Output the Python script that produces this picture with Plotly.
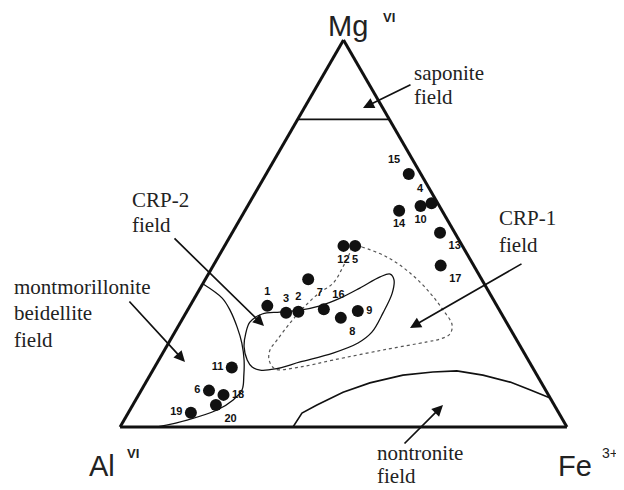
import plotly.graph_objects as go

W, H = 624, 490
OFF = 8  # the page body margin shifts the figure by 8 px; compensate

# ---------------- data (ternary fractions: Mg VI = a, Al VI = b, Fe3+ = c) ----------------
sample_ids = ["15", "4", "10", "14", "13", "17", "12", "5", "7", "1",
              "3", "2", "16", "8", "9", "11", "6", "18", "20", "19"]
sample_mg = [0.654, 0.578, 0.571, 0.559, 0.502, 0.417, 0.468, 0.468, 0.382, 0.313,
             0.295, 0.298, 0.304, 0.282, 0.300, 0.154, 0.094, 0.083, 0.057, 0.037]
sample_al = [0.027, 0.014, 0.042, 0.096, 0.033, 0.074, 0.266, 0.240, 0.388, 0.514,
             0.481, 0.452, 0.392, 0.365, 0.318, 0.673, 0.754, 0.727, 0.757, 0.823]
sample_fe = [0.319, 0.408, 0.387, 0.345, 0.465, 0.509, 0.266, 0.292, 0.230, 0.173,
             0.224, 0.250, 0.304, 0.353, 0.382, 0.173, 0.152, 0.190, 0.186, 0.140]
label_positions = ["top left", "top left", "bottom center", "bottom center", "bottom right",
                   "bottom right", "bottom center", "bottom center", "bottom right", "top center",
                   "top center", "top center", "top right", "bottom right", "middle right",
                   "middle left", "middle left", "middle right", "bottom right", "middle left"]

# saponite field boundary
sap_mg = [0.795, 0.795]
sap_al = [0.205, 0.0]
sap_fe = [0.0, 0.205]

# montmorillonite-beidellite field boundary
mont_mg = [0.370, 0.333, 0.302, 0.258, 0.217, 0.173, 0.134, 0.096, 0.070, 0.044, 0.018, 0.0]
mont_al = [0.630, 0.605, 0.603, 0.609, 0.619, 0.636, 0.656, 0.679, 0.712, 0.761, 0.841, 0.917]
mont_fe = [0.000, 0.062, 0.095, 0.133, 0.164, 0.191, 0.210, 0.225, 0.218, 0.195, 0.141, 0.083]

# CRP-2 field (solid closed curve)
crp2_mg = [0.302, 0.297, 0.292, 0.271, 0.243, 0.207, 0.173, 0.155, 0.147, 0.150, 0.168,
           0.191, 0.217, 0.245, 0.295, 0.346, 0.380, 0.395, 0.388, 0.359, 0.333, 0.313, 0.302]
crp2_al = [0.446, 0.494, 0.536, 0.574, 0.597, 0.619, 0.629, 0.627, 0.613, 0.578, 0.513,
           0.428, 0.359, 0.314, 0.264, 0.218, 0.197, 0.198, 0.224, 0.284, 0.341, 0.396, 0.446]
crp2_fe = [0.252, 0.209, 0.172, 0.155, 0.160, 0.174, 0.198, 0.218, 0.240, 0.272, 0.319,
           0.381, 0.424, 0.441, 0.441, 0.436, 0.423, 0.407, 0.388, 0.357, 0.326, 0.291, 0.252]

# CRP-1 field (dotted closed curve)
crp1_mg = [0.470, 0.465, 0.439, 0.398, 0.346, 0.302, 0.264, 0.240, 0.227, 0.220, 0.199, 0.173,
           0.155, 0.150, 0.173, 0.199, 0.225, 0.269, 0.307, 0.344, 0.372, 0.413, 0.452, 0.470]
crp1_al = [0.244, 0.226, 0.183, 0.152, 0.133, 0.126, 0.125, 0.142, 0.171, 0.203, 0.312, 0.437,
           0.520, 0.578, 0.580, 0.565, 0.536, 0.485, 0.437, 0.385, 0.337, 0.295, 0.259, 0.244]
crp1_fe = [0.286, 0.309, 0.378, 0.450, 0.521, 0.572, 0.611, 0.618, 0.602, 0.577, 0.489, 0.390,
           0.325, 0.272, 0.247, 0.236, 0.239, 0.246, 0.256, 0.271, 0.291, 0.292, 0.289, 0.286]

# nontronite field boundary
nont_mg = [0.0, 0.036, 0.057, 0.090, 0.114, 0.134, 0.142, 0.145, 0.134, 0.116, 0.096, 0.075]
nont_al = [0.613, 0.575, 0.531, 0.456, 0.384, 0.300, 0.229, 0.174, 0.121, 0.069, 0.035, 0.0]
nont_fe = [0.387, 0.389, 0.412, 0.454, 0.502, 0.566, 0.629, 0.681, 0.745, 0.815, 0.869, 0.925]

# ---------------- figure ----------------
fig = go.Figure()

def boundary(a, b, c, shape="spline", dash="solid", width=1.3, color="#111111"):
    fig.add_trace(go.Scatterternary(
        a=a, b=b, c=c, mode="lines",
        line=dict(color=color, width=width, dash=dash, shape=shape),
        hoverinfo="skip", showlegend=False))

boundary(sap_mg, sap_al, sap_fe, shape="linear", width=1.8)
boundary(mont_mg, mont_al, mont_fe, shape="spline", width=1.3)
boundary(crp2_mg, crp2_al, crp2_fe, shape="spline", width=1.3)
boundary(crp1_mg, crp1_al, crp1_fe, shape="spline", dash="dot", width=1.2, color="#555555")
boundary(nont_mg, nont_al, nont_fe, shape="linear", width=1.6)

fig.add_trace(go.Scatterternary(
    a=sample_mg, b=sample_al, c=sample_fe,
    mode="markers+text", text=["<b>%s</b>" % s for s in sample_ids],
    textposition=label_positions,
    textfont=dict(family="Arial", size=11, color="#111111"),
    marker=dict(size=12, color="#111111", line=dict(width=0)),
    hoverinfo="text", showlegend=False))

axis_style = dict(showgrid=False, showticklabels=False, ticks="", showline=True,
                  linecolor="#111111", linewidth=3, title=dict(text=""), min=0)

fig.update_layout(
    width=W, height=H,
    margin=dict(l=0, r=0, t=0, b=0),
    paper_bgcolor="white",
    showlegend=False,
    ternary=dict(
        sum=1,
        bgcolor="white",
        domain=dict(x=[(120 - OFF) / W, (567 - OFF) / W],
                    y=[1 - (427 - OFF) / H, 1 - (40 - OFF) / H]),
        aaxis=axis_style, baxis=axis_style, caxis=axis_style,
    ),
)

def P(x, y):
    return (x - OFF) / W, 1 - (y - OFF) / H

annotations = []

def text(x, y, s, size=21, family="Liberation Serif", anchor="left"):
    px_, py_ = P(x, y)
    annotations.append(dict(x=px_, y=py_, xref="paper", yref="paper", text=s,
                            showarrow=False, xanchor=anchor, yanchor="middle",
                            font=dict(family=family, size=size, color="#222222")))

def arrow(tail, head):
    hx, hy = P(*head)
    annotations.append(dict(x=hx, y=hy, xref="paper", yref="paper", text="",
                            showarrow=True, arrowhead=2, arrowsize=1.3, arrowwidth=1.7,
                            arrowcolor="#111111", ax=tail[0] - head[0], ay=tail[1] - head[1],
                            axref="pixel", ayref="pixel"))

# corner labels
text(348, 26, "Mg", size=29, family="Arial", anchor="center")
text(389, 17, "<b>VI</b>", size=13, family="Arial", anchor="center")
text(102, 466, "Al", size=29, family="Arial", anchor="center")
text(133, 453, "<b>VI</b>", size=13, family="Arial", anchor="center")
text(575, 466, "Fe", size=29, family="Arial", anchor="center")
text(610, 453, "3+", size=14, family="Arial", anchor="center")

# field labels
text(412, 73, "saponite")
text(412, 97, "field")
text(130, 200, "CRP-2")
text(130, 225, "field")
text(12, 287, "montmorillonite")
text(12, 313, "beidellite")
text(12, 340, "field")
text(497, 218, "CRP-1")
text(497, 245, "field")
text(375, 453, "nontronite")
text(375, 476, "field")

# arrows
arrow((412, 84), (363, 108))
arrow((173, 237), (264, 326))
arrow((128, 300), (185, 362))
arrow((523, 263), (410, 328))
arrow((403, 445), (443, 405))

fig.update_layout(annotations=annotations)

fig.write_html("out.html")
